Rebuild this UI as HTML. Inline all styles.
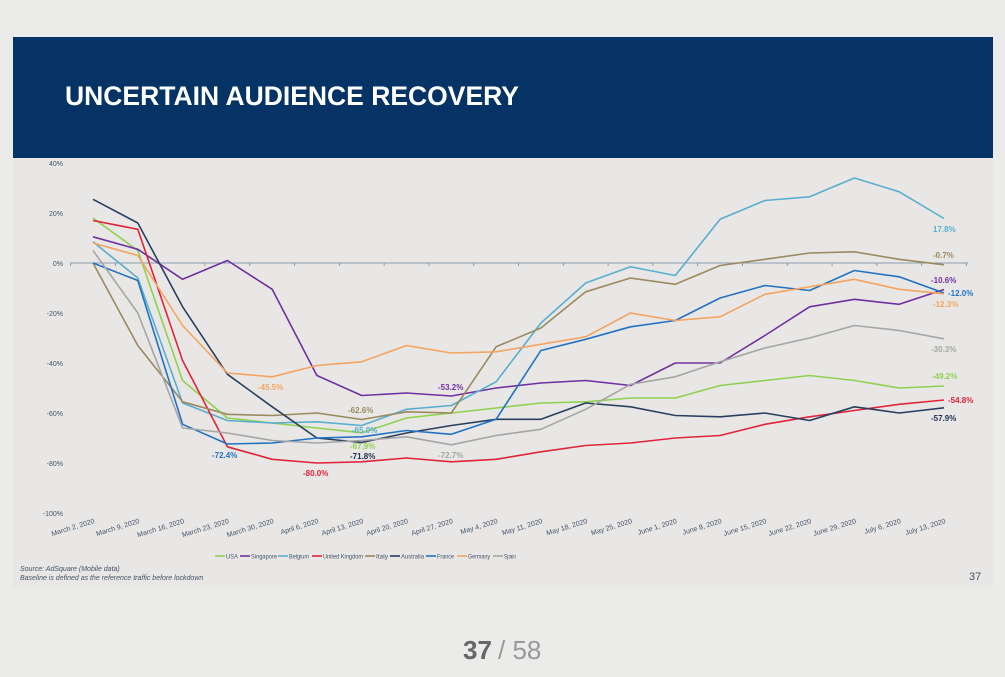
<!DOCTYPE html>
<html><head><meta charset="utf-8"><style>
html,body{margin:0;padding:0;background:#ebebea;width:1005px;height:677px;overflow:hidden;font-family:"Liberation Sans",sans-serif}
</style></head><body>
<svg id="s" width="1005" height="677" xmlns="http://www.w3.org/2000/svg" style="position:absolute;left:0;top:0">
<rect x="13" y="37" width="980" height="551" fill="#e8e7e5"/>
<rect x="13" y="37" width="980" height="121" fill="#053366"/>
<text x="65" y="105" fill="#fff" font-size="26.5" font-weight="bold" font-family="Liberation Sans,sans-serif">UNCERTAIN AUDIENCE RECOVERY</text>
<g font-size="7" fill="#44546a" text-anchor="end">
<text x="63" y="166">40%</text><text x="63" y="216">20%</text><text x="63" y="266">0%</text>
<text x="63" y="316">-20%</text><text x="63" y="366">-40%</text><text x="63" y="416">-60%</text>
<text x="63" y="466">-80%</text><text x="63" y="516">-100%</text>
</g>
<line x1="70" y1="263" x2="968" y2="263" stroke="#8a9bb0" stroke-width="1"/>
<g id="ticks" stroke="#8a9bb0"></g>
<g id="xl" font-size="7" fill="#44546a" text-anchor="end"></g>
<g id="lines" fill="none" stroke-width="1.6" stroke-linejoin="round"></g>
<g font-size="8" font-weight="bold">
<text x="258" y="390" fill="#f4a460">-45.5%</text>
<text x="212" y="458" fill="#2272c3">-72.4%</text>
<text x="303" y="476" fill="#e0243a">-80.0%</text>
<text x="348" y="413" fill="#9a8a5e">-62.6%</text>
<text x="352" y="433" fill="#5aaed0">-65.0%</text>
<text x="350" y="449" fill="#8fd14f">-67.9%</text>
<text x="350" y="459" fill="#1f2f4f">-71.8%</text>
<text x="438" y="390" fill="#7030a0">-53.2%</text>
<text x="438" y="458" fill="#a5a5a5">-72.7%</text>
<text x="933" y="232" fill="#5aaed0">17.8%</text>
<text x="933" y="258" fill="#9a8a5e">-0.7%</text>
<text x="931" y="283" fill="#7030a0">-10.6%</text>
<text x="948" y="296" fill="#2272c3">-12.0%</text>
<text x="933" y="307" fill="#f4a460">-12.3%</text>
<text x="931" y="352" fill="#a5a5a5">-30.3%</text>
<text x="932" y="379" fill="#8fd14f">-49.2%</text>
<text x="948" y="403" fill="#e0243a">-54.8%</text>
<text x="931" y="421" fill="#1f2f4f">-57.9%</text>
</g>
<g id="leg" font-size="6.5" fill="#44546a"></g>
<text x="20" y="571" font-size="7" font-style="italic" fill="#44546a">Source: AdSquare (Mobile data)</text>
<text x="20" y="580" font-size="7" font-style="italic" fill="#44546a">Baseline is defined as the reference traffic before lockdown</text>
<text x="969" y="580" font-size="11" fill="#44546a">37</text>
<text x="463" y="659" font-size="26" font-weight="bold" fill="#666">37</text>
<text x="498" y="659" font-size="26" fill="#999">/ 58</text>
</svg>
<script>
var X=[];for(var i=0;i<20;i++)X.push(93+i*44.79);
function Y(v){return 263-v*2.5;}
var S=[
["#8fd14f",[18,5,-47,-62,-64,-66,-67.9,-62,-60,-58,-56,-55.5,-54,-54,-49,-47,-45,-47,-50,-49.2]],
["#7030a0",[10.5,5.5,-6.5,1,-10.5,-45,-53,-52,-53.2,-50,-48,-47,-49,-40,-40,-29,-17.5,-14.5,-16.5,-10.6]],
["#5aaed0",[8.5,-6,-56,-63,-64,-63.5,-65,-58.5,-57,-47.5,-24,-8,-1.5,-5,17.5,25,26.5,34,28.5,17.8]],
["#e0243a",[17,13.5,-39,-73.5,-78.5,-80,-79.5,-78,-79.5,-78.5,-75.5,-73,-72,-70,-69,-64.5,-61.5,-59,-56.5,-54.8]],
["#9a8a5e",[0,-33,-55.5,-60.5,-61,-60,-62.6,-59.5,-60,-33.5,-26,-11.5,-6,-8.5,-1,1.5,4,4.5,1.5,-0.7]],
["#2a3f5f",[25.5,16,-17.5,-44.5,-57.5,-70,-71.8,-68,-65,-62.5,-62.5,-56,-57.5,-61,-61.5,-60,-63,-57.5,-60,-57.9]],
["#2272c3",[0,-7,-64.5,-72.4,-72,-70,-69.5,-67,-68.5,-62.5,-35,-30.5,-25.5,-23,-14,-9,-11,-3,-5.5,-12]],
["#f4a460",[8,3,-25,-44,-45.5,-41,-39.5,-33,-36,-35.5,-32.5,-29.5,-20,-23,-21.5,-12.5,-9.5,-6.5,-10.5,-12.3]],
["#a5a5a5",[5,-20,-66,-68,-71,-72,-71,-69.5,-72.7,-69,-66.5,-58.5,-48.5,-45.5,-39.5,-34,-30,-25,-27,-30.3]]];
var NS="http://www.w3.org/2000/svg";
var g=document.getElementById("lines");
S.forEach(function(s){var p=document.createElementNS(NS,"polyline");
p.setAttribute("points",s[1].map(function(v,i){return X[i].toFixed(1)+","+Y(v).toFixed(1)}).join(" "));
p.setAttribute("stroke",s[0]);g.appendChild(p);});
var L=["March 2, 2020","March 9, 2020","March 16, 2020","March 23, 2020","March 30, 2020","April 6, 2020","April 13, 2020","April 20, 2020","April 27, 2020","May 4, 2020","May 11, 2020","May 18, 2020","May 25, 2020","June 1, 2020","June 8, 2020","June 15, 2020","June 22, 2020","June 29, 2020","July 6, 2020","July 13, 2020"];
var xl=document.getElementById("xl"),tk=document.getElementById("ticks");
for(var i=0;i<=20;i++){var tx=70.6+i*44.79;var l=document.createElementNS(NS,"line");
l.setAttribute("x1",tx);l.setAttribute("x2",tx);l.setAttribute("y1",263);l.setAttribute("y2",266);tk.appendChild(l);}
L.forEach(function(t,i){var e=document.createElementNS(NS,"text");e.textContent=t;
e.setAttribute("transform","translate("+(X[i]+2)+",523) rotate(-17)");xl.appendChild(e);});
var names=["USA","Singapore","Belgium","United Kingdom","Italy","Australia","France","Germany","Spain"];
var lx=[215,240,278,312,365,390,426,457,493];
var lw=[12,26,20,40,12,23,17,22,12];
var lg=document.getElementById("leg");
names.forEach(function(n,i){var l=document.createElementNS(NS,"line");
l.setAttribute("x1",lx[i]);l.setAttribute("x2",lx[i]+10);l.setAttribute("y1",556);l.setAttribute("y2",556);
l.setAttribute("stroke",S[i][0]);l.setAttribute("stroke-width",1.6);lg.appendChild(l);
var t=document.createElementNS(NS,"text");t.textContent=n;t.setAttribute("x",lx[i]+11);t.setAttribute("y",558.5);
t.setAttribute("textLength",lw[i]);t.setAttribute("lengthAdjust","spacingAndGlyphs");lg.appendChild(t);});
</script>
</body></html>
